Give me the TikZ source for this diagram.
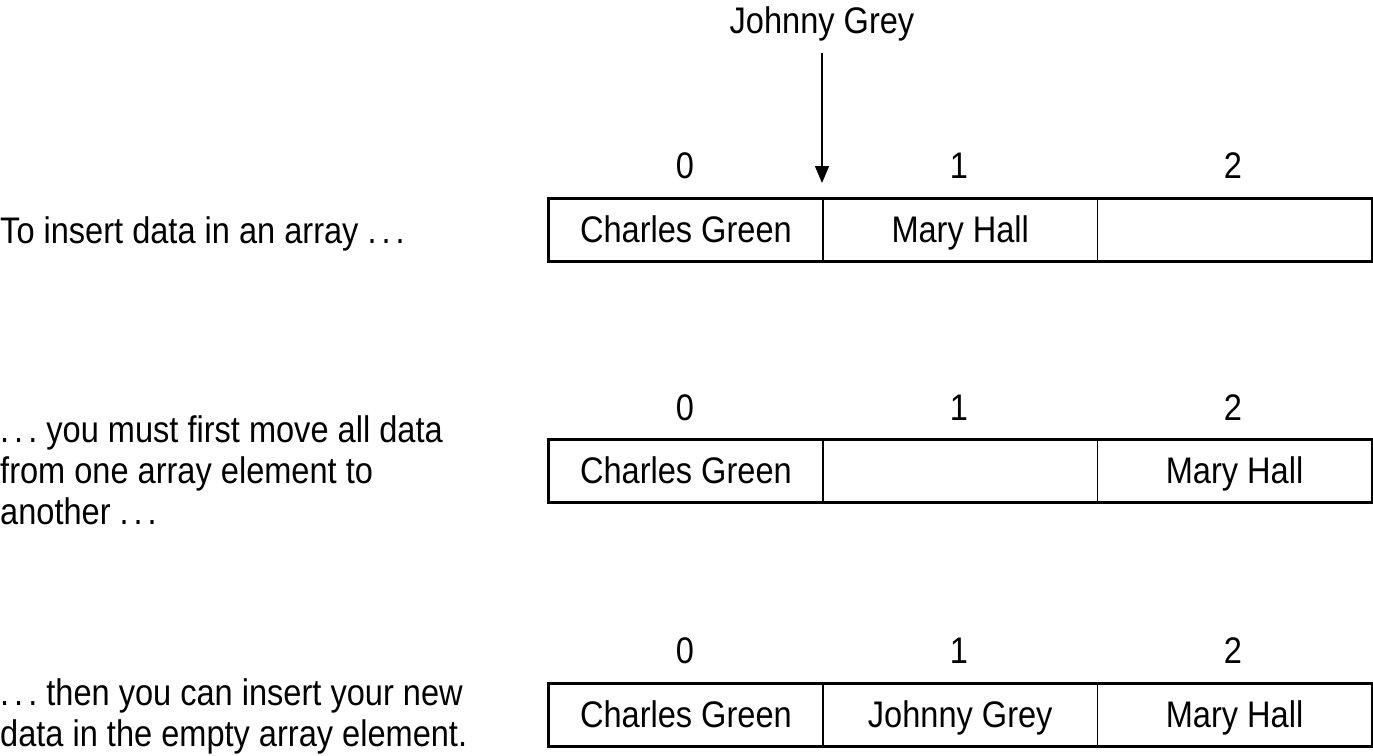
\documentclass[tikz,border=0pt]{standalone}
\usepackage{fontspec}
\setmainfont{Liberation Sans}[FakeStretch=0.88]
\usetikzlibrary{arrows.meta}
\newcommand\eld{.\kern5pt.\kern5pt.}
\begin{document}
\begin{tikzpicture}[x=1pt,y=-1pt,
  every node/.style={inner sep=0pt, font=\fontsize{37}{41}\selectfont},
  cell/.style={draw, line width=1.5pt, minimum width=274.33pt, minimum height=62pt, anchor=north west, text height=26pt, text depth=0pt},
  border/.style={draw, line width=3pt},
  idx/.style={anchor=base},
  lefttext/.style={anchor=base west, align=left},
  pointer/.style={line width=1.5pt, -{Triangle[length=17pt,width=14pt]}}]
\useasboundingbox (0,0) rectangle (1373,755);
% row 1
\node[lefttext] (t1) at (0,243) {To insert data in an array \eld};
\node[cell] (a0) at (548,198) {Charles Green};
\node[cell] (a1) at (822.33,198) {Mary Hall};
\node[cell] (a2) at (1096.67,198) {};
\draw[border] (a0.north west) rectangle (a2.south east);
\node[idx] (ai0) at (685,178) {0};
\node[idx] (ai1) at (959,178) {1};
\node[idx] (ai2) at (1233,178) {2};
\node[anchor=base] (jg) at (822,33) {Johnny Grey};
\coordinate (tip) at (822,183);
\draw[pointer] (822,53) -- (tip);
% row 2
\node[lefttext] (t2) at (0,524) {\eld\ you must first move all data\\from one array element to\\another \eld};
\node[cell] (b0) at (548,439) {Charles Green};
\node[cell] (b1) at (822.33,439) {};
\node[cell] (b2) at (1096.67,439) {Mary Hall};
\draw[border] (b0.north west) rectangle (b2.south east);
\node[idx] (bi0) at (685,420) {0};
\node[idx] (bi1) at (959,420) {1};
\node[idx] (bi2) at (1233,420) {2};
% row 3
\node[lefttext] (t3) at (0,746) {\eld\ then you can insert your new\\data in the empty array element.};
\node[cell] (c0) at (548,683) {Charles Green};
\node[cell] (c1) at (822.33,683) {Johnny Grey};
\node[cell] (c2) at (1096.67,683) {Mary Hall};
\draw[border] (c0.north west) rectangle (c2.south east);
\node[idx] (ci0) at (685,663) {0};
\node[idx] (ci1) at (959,663) {1};
\node[idx] (ci2) at (1233,663) {2};
\end{tikzpicture}
\end{document}
